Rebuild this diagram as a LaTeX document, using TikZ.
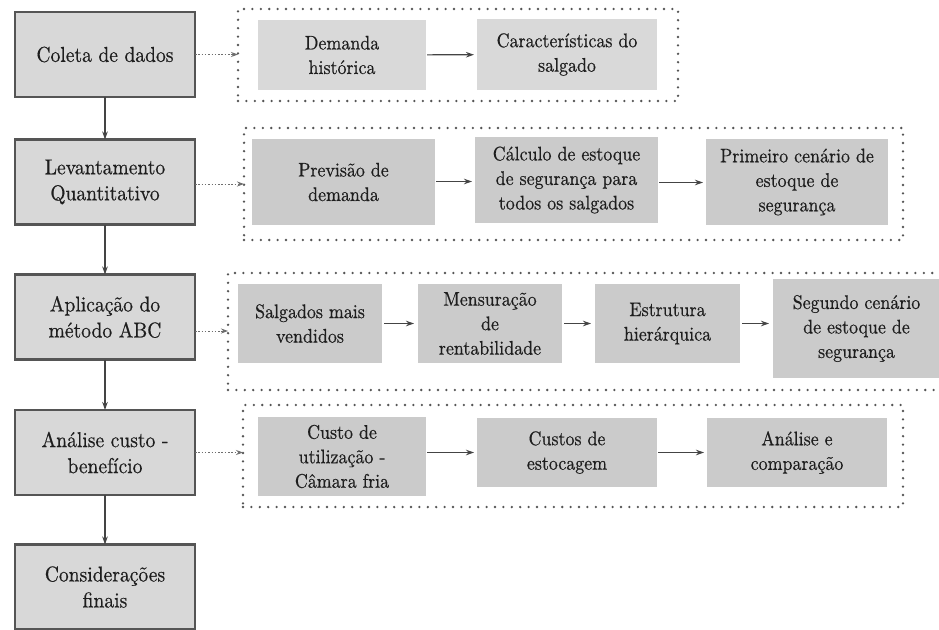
\documentclass[tikz,border=0pt]{standalone}
\usepackage{fontspec}
\setmainfont{lmroman10-regular.otf}[FakeStretch=0.91, FakeBold=0.5]
\usetikzlibrary{arrows.meta}
\definecolor{lfill}{HTML}{D8D8D8}
\definecolor{lborder}{HTML}{555555}
\definecolor{rfillA}{HTML}{D9D9D9}
\definecolor{rfillB}{HTML}{CBCBCB}
\definecolor{dotc}{HTML}{555555}
\definecolor{arrc}{HTML}{444444}
\definecolor{txt}{HTML}{1E1E1E}
\tikzset{
  lbox/.style={draw=lborder, line width=2.6pt, fill=lfill, inner sep=0pt, outer sep=0pt,
    minimum width=180pt, minimum height=85pt, align=center, text=txt,
    font=\fontsize{21.5}{26}\selectfont},
  rbox/.style={fill=rfillB, inner sep=0pt, outer sep=0pt, align=center, text=txt,
    font=\fontsize{19.7}{24.5}\selectfont},
  rboxA/.style={rbox, fill=rfillA},
  frame/.style={draw=dotc, line width=2.6pt, line cap=round, dash pattern=on 0pt off 8.4pt,
    inner sep=0pt, outer sep=0pt},
  flow/.style={draw=arrc, line width=1.1pt, -{Stealth[length=8pt,width=5.5pt]}},
  link/.style={draw=dotc!85, line width=1pt, dash pattern=on 1.5pt off 1.8pt,
    -{Stealth[length=7pt,width=5pt]}}
}
\begin{document}
\begin{tikzpicture}[x=1pt,y=-1pt]
\useasboundingbox (0,0) rectangle (939,629);
\fill[white] (0,0) rectangle (939,629);

% left column
\node[lbox] (coleta) at (105,54.5) {Coleta de dados};
\node[lbox] (lev) at (105,182) {Levantamento\\Quantitativo};
\node[lbox] (apl) at (105,317) {Aplicação do\\método ABC};
\node[lbox] (ana) at (105,452.5) {Análise custo -\\benefício};
\node[lbox] (cons) at (105,587) {Considerações\\finais};

\draw[flow] (coleta) -- (lev);
\draw[flow] (lev) -- (apl);
\draw[flow] (apl) -- (ana);
\draw[flow] (ana) -- (cons);

% frames
\node[frame, minimum width=440pt, minimum height=92pt] (f1) at (458,55) {};
\node[frame, minimum width=659pt, minimum height=112pt] (f2) at (573.5,184) {};
\node[frame, minimum width=722pt, minimum height=117pt] (f3) at (589,331.5) {};
\node[frame, minimum width=660pt, minimum height=102pt] (f4) at (573,456) {};

% row 1
\node[rboxA, minimum width=168pt, minimum height=70pt] (dem) at (342,55) {Demanda\\histórica};
\node[rboxA, minimum width=180pt, minimum height=71pt] (car) at (567,54.5) {Características do\\salgado};
\draw[flow, shorten <=1pt, shorten >=3pt] (dem) -- (car);

% row 2
\node[rbox, minimum width=183pt, minimum height=86pt] (prev) at (343.5,182) {Previsão de\\demanda};
\node[rbox, minimum width=183pt, minimum height=86pt] (calc) at (566.5,180) {Cálculo de estoque\\de segurança para\\todos os salgados};
\node[rbox, minimum width=182pt, minimum height=86pt] (prim) at (797,182) {Primeiro cenário de\\estoque de\\segurança};
\draw[flow, shorten <=1pt, shorten >=3pt] (prev.east |- 0,181.5) -- (calc.west |- 0,181.5);
\draw[flow, shorten <=1pt, shorten >=3pt] (calc.east |- 0,182.5) -- (prim.west |- 0,182.5);

% row 3
\node[rbox, minimum width=144pt, minimum height=79pt] (salg) at (310,323.5) {Salgados mais\\vendidos};
\node[rbox, minimum width=144pt, minimum height=79pt] (mens) at (490,323.5) {Mensuração\\de\\rentabilidade};
\node[rbox, minimum width=145pt, minimum height=79pt] (estr) at (667.5,323.5) {Estrutura\\hierárquica};
\node[rbox, minimum width=167pt, minimum height=99pt] (seg) at (856.5,328.5) {Segundo cenário\\de estoque de\\segurança};
\draw[flow, shorten <=2pt, shorten >=4pt] (salg) -- (mens);
\draw[flow, shorten <=2pt, shorten >=4pt] (mens) -- (estr);
\draw[flow, shorten <=2pt, shorten >=4pt] (estr.east) -- (seg.west |- estr.east);

% row 4
\node[rbox, minimum width=168pt, minimum height=79pt] (custo) at (342,456.5) {Custo de\\utilização -\\Câmara fria};
\node[rbox, minimum width=180pt, minimum height=69pt] (est) at (567,452.5) {Custos de\\estocagem};
\node[rbox, minimum width=180pt, minimum height=69pt] (comp) at (797,452.5) {Análise e\\comparação};
\draw[flow, shorten <=1pt, shorten >=3pt] (custo.east |- est.west) -- (est.west);
\draw[flow, shorten <=1pt, shorten >=3pt] (est) -- (comp);

% dotted links
\draw[link] (coleta.east) -- (coleta.east -| f1.west);
\draw[link] ([yshift=-2pt]lev.east) -- ([yshift=-2pt]lev.east -| f2.west);
\draw[link] ([yshift=-14pt]apl.east) -- ([yshift=-14pt]apl.east -| f3.west);
\draw[link] (ana.east) -- (ana.east -| f4.west);
\end{tikzpicture}
\end{document}
